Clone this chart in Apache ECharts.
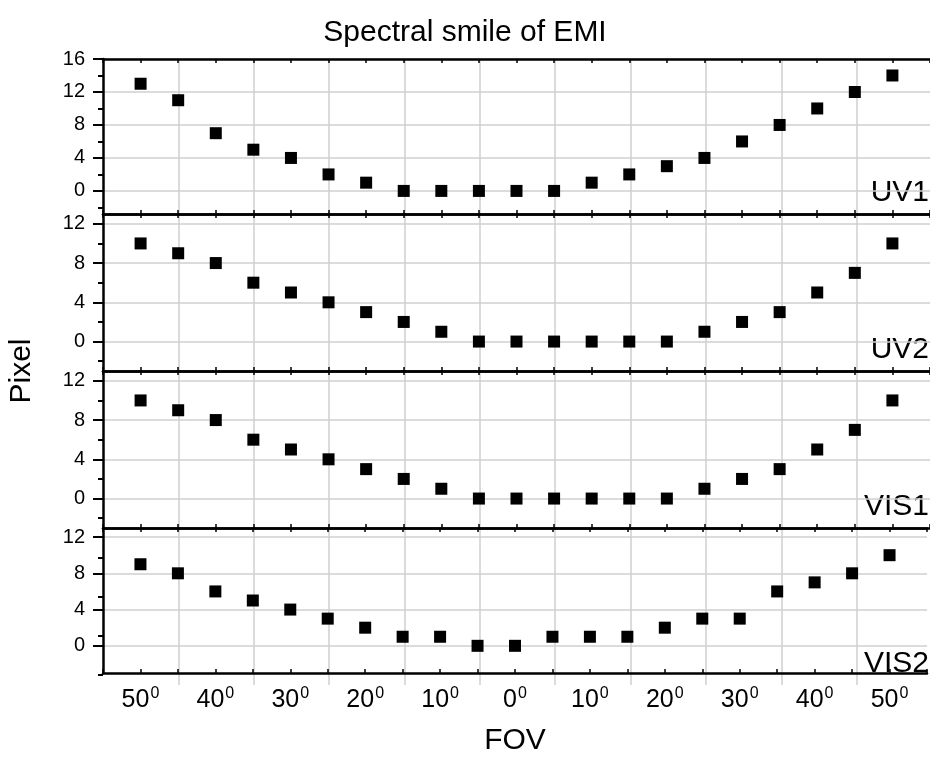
<!DOCTYPE html>
<html>
<head>
<meta charset="utf-8">
<script src="https://cdn.jsdelivr.net/npm/echarts@6/dist/echarts.min.js"></script>
<style>
  html, body { margin: 0; padding: 0; background: #fff; }
  #chart { width: 930px; height: 757px; }
</style>
</head>
<body>
<div id="chart"></div>
<script>
// FOV positions (degrees, left side negative)
const fov = [-50, -45, -40, -35, -30, -25, -20, -15, -10, -5, 0, 5, 10, 15, 20, 25, 30, 35, 40, 45, 50]

const panelNames = ['UV1', 'UV2', 'VIS1', 'VIS2']
const uv1 = [13, 11, 7, 5, 4, 2, 1, 0, 0, 0, 0, 0, 1, 2, 3, 4, 6, 8, 10, 12, 14]
const uv2 = [10, 9, 8, 6, 5, 4, 3, 2, 1, 0, 0, 0, 0, 0, 0, 1, 2, 3, 5, 7, 10]
const vis1 = [10, 9, 8, 6, 5, 4, 3, 2, 1, 0, 0, 0, 0, 0, 0, 1, 2, 3, 5, 7, 10]
const vis2 = [9, 8, 6, 5, 4, 3, 2, 1, 1, 0, 0, 1, 1, 1, 2, 3, 3, 6, 7, 8, 10]
const panelData = [uv1, uv2, vis1, vis2]

// y ticks per panel
const yMajor = [[0, 4, 8, 12, 16], [0, 4, 8, 12], [0, 4, 8, 12], [0, 4, 8, 12]]
const yMinor = [[-2, 2, 6, 10, 14], [-2, 2, 6, 10], [-2, 2, 6, 10], [-2, 2, 6, 10]]
const yRange = [[-2.8, 16], [-3, 13], [-3, 13], [-3, 13]]

const X_MIN = -55
const X_MAX = 55
// vertical grid lines sit between the labelled ticks: -45 .. 45, step 10
const VGRID_FROM = -45
const VGRID_TO = 45

const FONT = '"Liberation Sans", Arial, sans-serif'
const chart = echarts.init(document.getElementById('chart'))

const gridTops = [59, 214, 371, 528]
const gridHeights = [155, 157, 157, 157]
const plotLeft = 103
const plotWidth = 829
const pxPerDeg = plotWidth / (X_MAX - X_MIN)

const grids = []
const xAxes = []
const yAxes = []
const series = []
const graphics = []

const blackLine = { show: true, onZero: false, lineStyle: { color: '#000', width: 2.5 } }
const gridLine = { show: true, lineStyle: { color: '#cfcfcf', width: 1.5 } }
const noLine = { show: false, onZero: false }

// main grids 0..3
for (let g = 0; g < 4; g++) {
  grids.push({ left: plotLeft, width: plotWidth, top: gridTops[g], height: gridHeights[g] })
  const isLast = g === 3

  xAxes.push({
    gridIndex: g,
    type: 'value',
    position: 'bottom',
    min: X_MIN,
    max: X_MAX,
    interval: 5,
    axisLine: blackLine,
    axisTick: { show: true, inside: true, length: 4, lineStyle: { color: '#000', width: 1.5 } },
    splitLine: { show: false },
    axisLabel: {
      show: isLast,
      margin: 13,
      formatter: v => (v % 10 === 0 ? '{n|' + Math.abs(v) + '}{s|0}' : ''),
      rich: {
        n: { fontFamily: FONT, fontSize: 25, color: '#000', lineHeight: 28 },
        s: { fontFamily: FONT, fontSize: 16, color: '#000', verticalAlign: 'top', lineHeight: 26, padding: [0, 0, 0, 1] }
      }
    },
    name: isLast ? 'FOV' : '',
    nameLocation: 'middle',
    nameGap: 53,
    nameTextStyle: { fontFamily: FONT, fontSize: 30, color: '#000' }
  })
  xAxes.push({
    gridIndex: g,
    type: 'value',
    position: 'top',
    min: X_MIN,
    max: X_MAX,
    interval: 5,
    axisLine: blackLine,
    axisTick: { show: true, inside: true, length: 4, lineStyle: { color: '#000', width: 1.5 } },
    axisLabel: { show: false },
    splitLine: { show: false }
  })

  // left axis: major ticks, labels and horizontal grid lines
  yAxes.push({
    gridIndex: g,
    type: 'value',
    position: 'left',
    min: yRange[g][0],
    max: yRange[g][1],
    axisLine: blackLine,
    axisTick: { show: true, length: 10, customValues: yMajor[g], lineStyle: { color: '#000', width: 2 } },
    axisLabel: { show: true, margin: 18, customValues: yMajor[g], fontFamily: FONT, fontSize: 20, color: '#000' },
    splitLine: gridLine
  })
  yAxes.push({
    gridIndex: g,
    type: 'value',
    position: 'right',
    min: yRange[g][0],
    max: yRange[g][1],
    axisLine: noLine,
    axisTick: { show: false },
    axisLabel: { show: false },
    splitLine: { show: false }
  })

  series.push({
    type: 'scatter',
    name: panelNames[g],
    xAxisIndex: g * 2,
    yAxisIndex: g * 2,
    symbol: 'rect',
    symbolSize: 12,
    itemStyle: { color: '#000', opacity: 1 },
    z: 5,
    data: fov.map((x, i) => [x, panelData[g][i]])
  })

  graphics.push({
    type: 'text',
    x: 929,
    y: gridTops[g] + gridHeights[g] - 6,
    style: {
      text: panelNames[g],
      font: '30px ' + FONT,
      fill: '#000',
      textAlign: 'right',
      textVerticalAlign: 'bottom'
    }
  })
}

// grids 4..7: span -45..45 deg, only carry the vertical grid lines
for (let g = 0; g < 4; g++) {
  grids.push({
    left: plotLeft + (VGRID_FROM - X_MIN) * pxPerDeg,
    width: (VGRID_TO - VGRID_FROM) * pxPerDeg,
    top: gridTops[g],
    height: gridHeights[g]
  })
  xAxes.push({
    gridIndex: 4 + g,
    type: 'value',
    position: 'bottom',
    min: 0,
    max: VGRID_TO - VGRID_FROM,
    interval: 10,
    axisLine: noLine,
    axisTick: { show: false },
    axisLabel: { show: false },
    splitLine: gridLine
  })
  yAxes.push({
    gridIndex: 4 + g,
    type: 'value',
    min: 0,
    max: 1,
    axisLine: noLine,
    axisTick: { show: false },
    axisLabel: { show: false },
    splitLine: { show: false }
  })
}

// grids 8..11: same box as the main grids, carry the minor y ticks
for (let g = 0; g < 4; g++) {
  grids.push({ left: plotLeft, width: plotWidth, top: gridTops[g], height: gridHeights[g] })
  xAxes.push({
    gridIndex: 8 + g,
    type: 'value',
    min: X_MIN,
    max: X_MAX,
    axisLine: noLine,
    axisTick: { show: false },
    axisLabel: { show: false },
    splitLine: { show: false }
  })
  yAxes.push({
    gridIndex: 8 + g,
    type: 'value',
    position: 'left',
    min: yRange[g][0],
    max: yRange[g][1],
    axisLine: noLine,
    axisTick: { show: true, length: 5, customValues: yMinor[g], lineStyle: { color: '#000', width: 2 } },
    axisLabel: { show: false },
    splitLine: { show: false }
  })
}

graphics.push({
  type: 'text',
  x: 22,
  y: 371,
  rotation: Math.PI / 2,
  style: {
    text: 'Pixel',
    font: '30px ' + FONT,
    fill: '#000',
    textAlign: 'center',
    textVerticalAlign: 'middle'
  }
})

const option = {
  backgroundColor: '#fff',
  animation: false,
  title: {
    text: 'Spectral smile of EMI',
    left: 'center',
    top: 13,
    textStyle: { fontFamily: FONT, fontSize: 30, fontWeight: 'normal', color: '#000' }
  },
  grid: grids,
  xAxis: xAxes,
  yAxis: yAxes,
  series: series,
  graphic: graphics
}

chart.setOption(option)
</script>
</body>
</html>
